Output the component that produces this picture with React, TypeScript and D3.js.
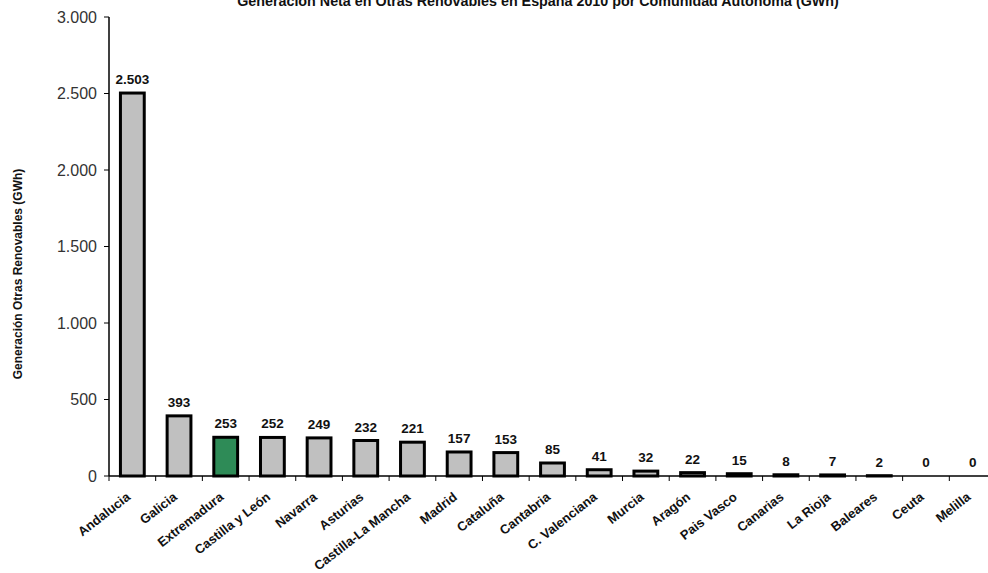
import React from "react";
import * as d3 from "d3";

const categories = ["Andalucia","Galicia","Extremadura","Castilla y León","Navarra","Asturias","Castilla-La Mancha","Madrid","Cataluña","Cantabria","C. Valenciana","Murcia","Aragón","Pais Vasco","Canarias","La Rioja","Baleares","Ceuta","Melilla"];
const values = [2503,393,253,252,249,232,221,157,153,85,41,32,22,15,8,7,2,0,0];
const valueLabels = ["2.503","393","253","252","249","232","221","157","153","85","41","32","22","15","8","7","2","0","0"];
const yTicks = [0,500,1000,1500,2000,2500,3000];
const yTickLabels = ["0","500","1.000","1.500","2.000","2.500","3.000"];
const highlight = "Extremadura";
const title = "Generación Neta en Otras Renovables en España 2010 por Comunidad Autónoma (GWh)";
const yTitle = "Generación Otras Renovables (GWh)";

export default function App() {
  const W = 988, H = 573;
  const left = 109, right = 996, top = 17, bottom = 476;
  const x = d3.scaleBand<string>().domain(categories).range([left, right]).paddingInner(0.49).paddingOuter(0.245);
  const xb = d3.scaleBand<string>().domain(categories).range([left, right]);
  const y = d3.scaleLinear().domain([0, 3000]).range([bottom, top]);
  const font = "'Liberation Sans', Arial, sans-serif";
  return (
    <svg width={W} height={H} style={{ position: "absolute", left: 0, top: 0, background: "#fff" }} fontFamily={font}>
      <text x={538} y={6} textAnchor="middle" fontSize={14.3} fontWeight="bold" fill="#111">{title}</text>
      <text transform={`translate(22,274) rotate(-90)`} textAnchor="middle" fontSize={12} fontWeight="bold" fill="#111">{yTitle}</text>
      {categories.map((c, i) => {
        const v = values[i];
        const bx = x(c)!;
        const bw = x.bandwidth();
        const h = bottom - y(v);
        const cx = xb(c)! + xb.bandwidth() / 2;
        return (
          <g key={c}>
            {v > 0 && (
              <rect x={bx} y={y(v)} width={bw} height={h} fill={c === highlight ? "#2e8b57" : "#c0c0c0"} stroke="#000" strokeWidth={3} />
            )}
            <text x={cx} y={y(v) - 9} textAnchor="middle" fontSize={13.5} fontWeight="bold" fill="#111">{valueLabels[i]}</text>
            <text transform={`translate(${cx - 4},${bottom + 19}) rotate(-38)`} textAnchor="end" dy="0.35em" fontSize={13} fontWeight="bold" fill="#111">{c}</text>
          </g>
        );
      })}
      <line x1={left} x2={left} y1={top} y2={bottom} stroke="#000" strokeWidth={1.5} />
      <line x1={left} x2={W} y1={bottom} y2={bottom} stroke="#000" strokeWidth={1.5} />
      {yTicks.map((t, i) => (
        <g key={t}>
          <line x1={left - 5} x2={left} y1={y(t)} y2={y(t)} stroke="#000" strokeWidth={1} />
          <text x={left - 12} y={y(t)} dy="0.35em" textAnchor="end" fontSize={16} fill="#333">{yTickLabels[i]}</text>
        </g>
      ))}
      {categories.map((c) => (
        <line key={c} x1={xb(c)!} x2={xb(c)!} y1={bottom} y2={bottom + 5} stroke="#000" strokeWidth={1} />
      ))}
    </svg>
  );
}
